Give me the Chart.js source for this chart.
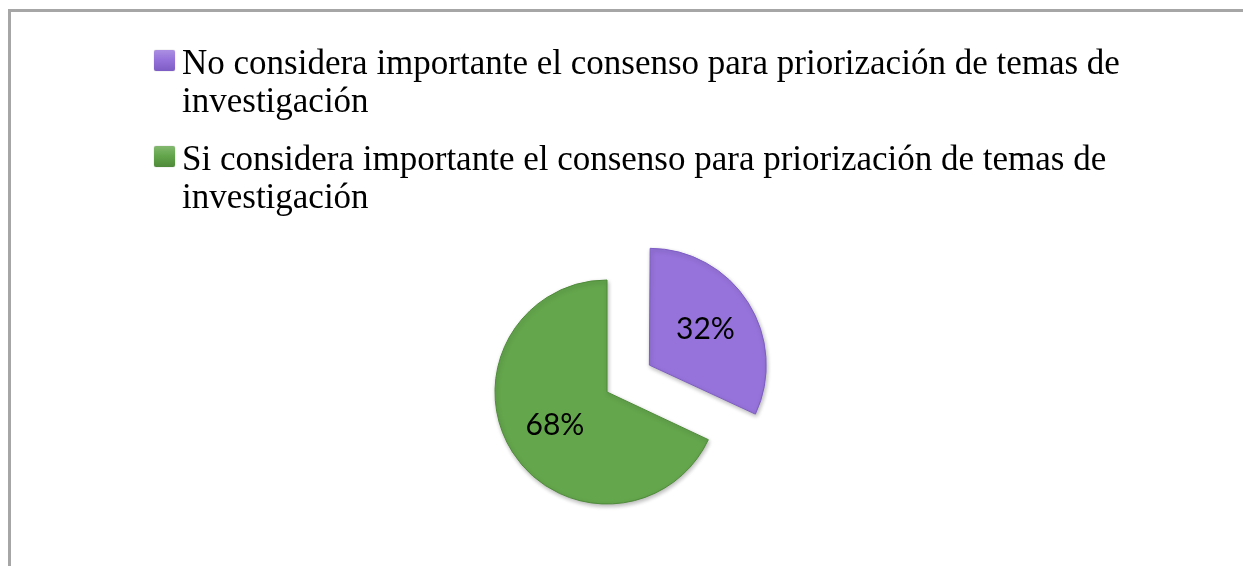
<!DOCTYPE html>
<html>
<head>
<meta charset="utf-8">
<script src="https://cdn.jsdelivr.net/npm/chart.js@4.4.1/dist/chart.umd.min.js"></script>
<style>
  html, body { margin: 0; padding: 0; background: #ffffff; }
  #wrap { position: relative; width: 1243px; height: 566px; overflow: hidden; background: #fff; }
  #frame { position: absolute; left: 8px; top: 9px; width: 1300px; height: 700px;
           border-top: 3px solid #a6a6a6; border-left: 3px solid #a6a6a6; box-sizing: border-box; }
  #c { position: absolute; left: 0; top: 0; }
  #legend { position: absolute; left: 154px; top: 44px; width: 1060px;
            font-family: "Liberation Serif", "Times New Roman", serif; font-size: 35px;
            line-height: 37.5px; color: #000; }
  .item { display: flex; align-items: flex-start; margin-bottom: 21px; }
  .box { width: 21px; height: 21px; margin-top: 6px; margin-right: 7px; flex: none;
         border-radius: 2px; box-shadow: 0 0 1px rgba(0,0,0,0.45); }
  .txt { width: 1000px; }
</style>
</head>
<body>
<div id="wrap">
  <div id="frame"></div>
  <canvas id="c" width="1243" height="566"></canvas>
  <div id="legend"></div>
</div>
<script>
// ---- data ----
const categories = [
  "No considera importante el consenso para priorización de temas de investigación",
  "Si considera importante el consenso para priorización de temas de investigación"
];
const values = [32, 68];
const valueLabels = ["32%", "68%"];
const sliceColors = ["#9673db", "#64a64c"];
const sliceEdgeColors = ["#7d5cc4", "#4f8a3a"];
const explodeDistance = [55, 0];   // how far each slice is pulled out, in px

// Chart.js moves an arc by offset/4 * (1 + (1 - sin(min(PI, circumference))))
const total = values.reduce((a, b) => a + b, 0);
const chartOffsets = values.map((v, i) => {
  const circ = 2 * Math.PI * v / total;
  const factor = (1 + (1 - Math.sin(Math.min(Math.PI, circ)))) / 4;
  return explodeDistance[i] / factor;
});

// ---- HTML legend built from the arrays ----
const legendEl = document.getElementById('legend');
categories.forEach((name, i) => {
  const item = document.createElement('div');
  item.className = 'item';
  const box = document.createElement('div');
  box.className = 'box';
  box.style.background = 'linear-gradient(180deg, ' + sliceColors[i] + 'cc 0%, ' + sliceColors[i] + ' 45%, ' + sliceEdgeColors[i] + ' 100%)';
  const txt = document.createElement('div');
  txt.className = 'txt';
  txt.textContent = name;
  item.appendChild(box);
  item.appendChild(txt);
  legendEl.appendChild(item);
});

// ---- value labels plugin ----
const valueLabelPlugin = {
  id: 'valueLabels',
  afterDatasetsDraw(chart) {
    const ctx = chart.ctx;
    const meta = chart.getDatasetMeta(0);
    ctx.save();
    ctx.font = '30px Lato, "Open Sans", sans-serif';
    ctx.fillStyle = '#000';
    ctx.textAlign = 'center';
    ctx.textBaseline = 'middle';
    meta.data.forEach((arc, i) => {
      const p = arc.getProps(['x', 'y', 'startAngle', 'endAngle', 'outerRadius'], true);
      const mid = (p.startAngle + p.endAngle) / 2;
      const d = explodeDistance[i] + p.outerRadius * 0.55;
      ctx.fillText(valueLabels[i], p.x + Math.cos(mid) * d, p.y + Math.sin(mid) * d);
    });
    ctx.restore();
  }
};

// ---- soft shadow under slices ----
const shadowPlugin = {
  id: 'sliceShadow',
  beforeDatasetsDraw(chart) {
    const ctx = chart.ctx;
    ctx.save();
    ctx.shadowColor = 'rgba(0,0,0,0.28)';
    ctx.shadowBlur = 4;
    ctx.shadowOffsetX = 1;
    ctx.shadowOffsetY = 2;
  },
  afterDatasetsDraw(chart) {
    chart.ctx.restore();
  }
};

new Chart(document.getElementById('c'), {
  type: 'pie',
  data: {
    labels: categories,
    datasets: [{
      data: values,
      backgroundColor: sliceColors,
      borderColor: sliceEdgeColors,
      borderWidth: 1,
      offset: chartOffsets,
      hoverOffset: 0,
      radius: 112
    }]
  },
  options: {
    responsive: false,
    animation: false,
    radius: 112,
    events: [],
    layout: { padding: { left: 0, right: 29, top: 218, bottom: 0 } },
    plugins: {
      legend: { display: false },
      tooltip: { enabled: false },
      title: { display: false }
    }
  },
  plugins: [shadowPlugin, valueLabelPlugin]
});
</script>
</body>
</html>
